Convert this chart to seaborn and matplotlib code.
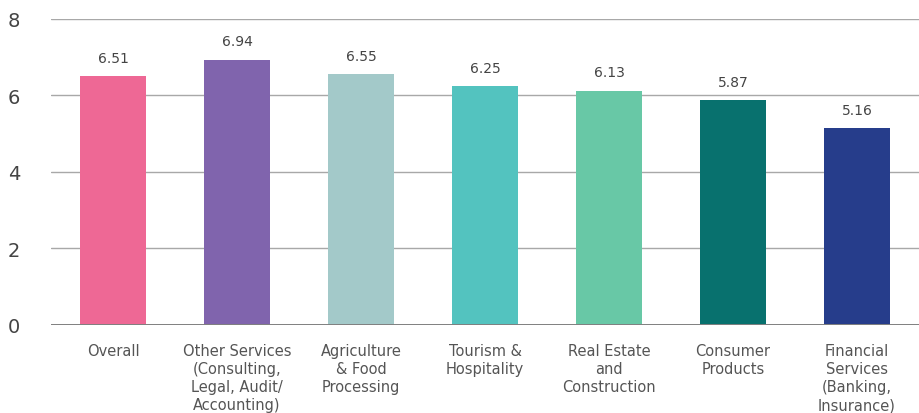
import matplotlib
matplotlib.use("Agg")
import matplotlib.pyplot as plt
import seaborn as sns
import pandas as pd

categories = [
    "Overall",
    "Other Services\n(Consulting,\nLegal, Audit/\nAccounting)",
    "Agriculture\n& Food\nProcessing",
    "Tourism &\nHospitality",
    "Real Estate\nand\nConstruction",
    "Consumer\nProducts",
    "Financial\nServices\n(Banking,\nInsurance)",
]
scores = [6.51, 6.94, 6.55, 6.25, 6.13, 5.87, 5.16]
colors = ["#EE6895", "#8064AD", "#A3C9C9", "#53C3BF", "#68C8A6", "#08716E", "#263D8B"]
y_ticks = [0, 2, 4, 6, 8]

sns.set_theme(style="white")
plt.rcParams["font.family"] = ["DejaVu Sans"]

df = pd.DataFrame({"category": categories, "score": scores})

fig = plt.figure(figsize=(9.19, 4.14), dpi=100)
ax = fig.add_axes([0.0555, 0.2126, 0.9445, 0.7391])

sns.barplot(data=df, x="category", y="score", hue="category", palette=colors,
            legend=False, width=0.53, saturation=1, linewidth=0, ax=ax, zorder=3)

ax.set_ylim(0, 8)
ax.set_xlim(-0.5, 6.5)
ax.set_yticks(y_ticks)
ax.yaxis.grid(True, color="#A8A8A8", linewidth=1.0, zorder=0)
ax.axhline(0, color="#808080", linewidth=1.4, zorder=4)
for s in ax.spines.values():
    s.set_visible(False)

ax.set_xlabel("")
ax.set_ylabel("")
ax.tick_params(axis="y", length=0, pad=22, labelsize=14, labelcolor="#444444")
ax.tick_params(axis="x", length=0, pad=13, labelsize=10.5, labelcolor="#555555")
for lbl in ax.get_xticklabels():
    lbl.set_linespacing(1.25)

for i, v in enumerate(scores):
    ax.annotate(f"{v:.2f}", xy=(i, v), xytext=(0, 8), textcoords="offset points",
                ha="center", va="bottom", fontsize=10, color="#444444")

fig.savefig("out.png", dpi=100)
